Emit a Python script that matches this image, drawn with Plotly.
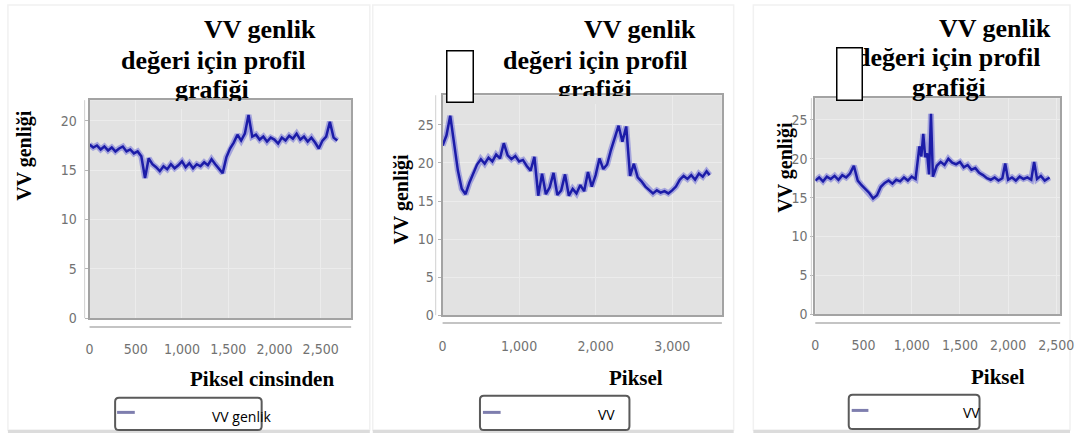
import plotly.graph_objects as go

# ---------------- data ----------------
p1_x = [0, 40, 80, 120, 160, 200, 240, 280, 320, 360, 400, 440, 480, 520, 560, 600,
        640, 680, 720, 760, 800, 840, 880, 920, 960, 1000, 1040, 1080, 1120, 1160, 1200,
        1240, 1280, 1320, 1360, 1400, 1440, 1480, 1520, 1560, 1600, 1640, 1680, 1720,
        1760, 1800, 1840, 1880, 1920, 1960, 2000, 2040, 2080, 2120, 2160, 2200, 2240,
        2280, 2320, 2360, 2400, 2440, 2480, 2520, 2560, 2600, 2640, 2680]
p1_y = [17.6, 17.3, 17.5, 17.1, 17.4, 17.0, 17.3, 16.9, 17.2, 17.4, 16.9, 17.1, 16.7, 16.9,
        16.4, 14.2, 16.2, 15.6, 15.3, 14.9, 15.4, 15.1, 15.6, 15.2, 15.5, 15.9, 15.3, 15.7,
        15.2, 15.6, 15.4, 15.8, 15.5, 16.1, 15.6, 15.2, 14.7, 16.3, 17.2, 17.8, 18.6, 18.0,
        18.7, 20.6, 18.4, 18.6, 18.1, 18.4, 17.9, 18.3, 18.1, 17.7, 18.3, 18.0, 18.5, 18.2,
        18.7, 18.1, 18.4, 17.9, 18.3, 17.8, 17.2, 18.0, 18.4, 19.9, 18.3, 18.0]

p2_x = [0, 50, 100, 150, 200, 250, 300, 350, 400, 450, 500, 550, 600, 650, 700, 750, 800,
        850, 900, 950, 1000, 1050, 1100, 1150, 1200, 1250, 1300, 1350, 1400, 1450, 1500,
        1550, 1600, 1650, 1700, 1750, 1800, 1850, 1900, 1950, 2000, 2050, 2100, 2150, 2200,
        2250, 2300, 2350, 2400, 2450, 2500, 2550, 2600, 2650, 2700, 2750, 2800, 2850, 2900,
        2950, 3000, 3050, 3100, 3150, 3200, 3250, 3300, 3350, 3400, 3450, 3490]
p2_y = [22.3, 23.6, 26.2, 22.4, 19.0, 16.6, 15.9, 17.4, 18.6, 19.8, 20.5, 19.9, 20.7, 20.2,
        21.1, 20.6, 22.6, 21.0, 20.5, 20.9, 20.2, 20.4, 19.6, 19.0, 20.8, 15.7, 18.6, 15.9,
        16.8, 18.7, 15.8, 16.4, 18.5, 15.7, 16.6, 16.0, 17.1, 16.3, 18.8, 16.9, 18.4, 20.6,
        19.2, 19.8, 21.7, 23.2, 24.9, 22.8, 24.8, 18.3, 19.9, 18.1, 17.6, 16.9, 16.5, 16.0,
        16.4, 16.1, 16.3, 16.0, 16.4, 16.9, 17.8, 18.3, 17.9, 18.4, 17.8, 18.6, 18.2, 18.9, 18.4]

p3_x = [0, 40, 80, 120, 160, 200, 240, 280, 320, 360, 400, 440, 480, 520, 560, 600, 640,
        680, 720, 760, 800, 840, 880, 920, 960, 1000, 1040, 1080, 1100, 1120, 1140, 1160,
        1180, 1200, 1220, 1260, 1300, 1340, 1380, 1420, 1460, 1500, 1540, 1580, 1620, 1660,
        1700, 1740, 1780, 1820, 1860, 1900, 1940, 1970, 2000, 2040, 2080, 2120, 2160, 2200,
        2240, 2270, 2300, 2340, 2380, 2430]
p3_y = [17.2, 17.6, 17.1, 17.7, 17.4, 17.8, 17.3, 17.9, 17.6, 18.1, 19.1, 17.2, 16.6, 16.1,
        15.6, 14.9, 15.3, 16.4, 16.9, 17.2, 16.8, 17.3, 17.1, 17.6, 17.2, 17.7, 17.4, 21.6,
        20.3, 23.2, 20.2, 20.7, 18.0, 25.8, 17.7, 19.1, 19.6, 19.2, 20.0, 19.5, 19.3, 19.6,
        18.9, 19.2, 18.6, 18.8, 18.2, 17.9, 17.5, 17.3, 17.6, 17.2, 17.5, 19.4, 17.3, 17.6,
        17.2, 17.7, 17.4, 17.6, 17.3, 19.6, 17.4, 17.8, 17.2, 17.6]

title_lines = ["VV genlik", "değeri için profil", "grafiği"]
y_title = "VV genliği"
x_titles = ["Piksel cinsinden", "Piksel", "Piksel"]
legend_names = ["VV genlik", "VV", "VV"]

# ---------------- layout helpers ----------------
W, H = 1084, 441
def PX(px):
    return px / W
def PY(py):
    return 1 - py / H

SERIF = "Liberation Serif, Times New Roman, serif"
NARROW = "Liberation Sans Narrow, DejaVu Sans Condensed, Arial Narrow, Liberation Sans, sans-serif"
SANS = "Open Sans, Liberation Sans, sans-serif"

panels = [
    dict(l=87, r=353, t=102, b=324, xr=[0, 2830], yr=[0, 22.1], dx=500, x=p1_x, y=p1_y,
         yaxl=82, xaxl=333, ylab_standoff=5),
    dict(l=446, r=730, t=97, b=321, xr=[0, 3650], yr=[0, 28.9], dx=1000, x=p2_x, y=p2_y,
         yaxl=439, xaxl=329, ylab_standoff=1),
    dict(l=825, r=1074, t=100, b=320, xr=[0, 2540], yr=[0, 27.8], dx=500, x=p3_x, y=p3_y,
         yaxl=821, xaxl=329, ylab_standoff=0),
]

fig = go.Figure()
layout = dict(
    width=W, height=H, margin=dict(l=0, r=0, t=0, b=0),
    paper_bgcolor="white", plot_bgcolor="#e2e2e2", showlegend=False,
)
shapes = []
annotations = []

for (l, r) in [(4, 372), (375, 742), (762, 1084)]:
    shapes.append(dict(type="rect", xref="paper", yref="paper", x0=PX(l), x1=PX(r),
                       y0=PY(438), y1=PY(5), line=dict(color="#f1f1f1", width=1.5),
                       fillcolor="rgba(0,0,0,0)", layer="below"))
    shapes.append(dict(type="line", xref="paper", yref="paper", x0=PX(l), x1=PX(r),
                       y0=PY(439.5), y1=PY(439.5), line=dict(color="#dcdcdc", width=3)))

for i, p in enumerate(panels):
    n = "" if i == 0 else str(i + 1)
    xa, ya = "x" + n, "y" + n
    fig.add_trace(go.Scatter(x=p["x"], y=p["y"], mode="lines", xaxis=xa, yaxis=ya,
                             line=dict(color="rgba(50,50,210,0.35)", width=6),
                             hoverinfo="skip", name=legend_names[i]))
    fig.add_trace(go.Scatter(x=p["x"], y=p["y"], mode="lines", xaxis=xa, yaxis=ya,
                             line=dict(color="#1c1ca8", width=2.5), name=legend_names[i]))
    layout["xaxis" + n] = dict(
        domain=[PX(p["l"]), PX(p["r"])], range=p["xr"], anchor=ya, dtick=p["dx"], tick0=0,
        tickformat=",d", showgrid=True, gridcolor="#ececec", gridwidth=1, zeroline=False,
        showline=True, mirror=True, linecolor="#a3a3a3", linewidth=2, ticks="",
        ticklabelstandoff=17, ticklabeloverflow="allow",
        tickfont=dict(family=NARROW, size=14, color="#727272"))
    layout["yaxis" + n] = dict(
        domain=[PY(p["b"]), PY(p["t"])], range=p["yr"], anchor=xa, dtick=5, tick0=0,
        showgrid=True, gridcolor="#ececec", gridwidth=1, zeroline=False,
        showline=True, mirror=True, linecolor="#a3a3a3", linewidth=2,
        ticks="outside", ticklen=3, tickcolor="#b5b5b5",
        ticklabelstandoff=p["ylab_standoff"], ticklabeloverflow="allow",
        tickfont=dict(family=NARROW, size=14, color="#727272"))
    shapes.append(dict(type="line", xref="paper", yref="paper", x0=PX(p["l"]), x1=PX(p["r"]),
                       y0=PY(p["xaxl"]), y1=PY(p["xaxl"]), line=dict(color="#c4c4c4", width=2)))
    shapes.append(dict(type="line", xref="paper", yref="paper", x0=PX(p["yaxl"]), x1=PX(p["yaxl"]),
                       y0=PY(p["b"]), y1=PY(p["t"]), line=dict(color="#d0d0d0", width=1)))

title_pos = [
    [(260, 30), (213, 62), (212, 91)],
    [(647, 30), (601, 62), (601, 91)],
    [(1008, 29), (960, 59), (961, 89)],
]
for i in range(3):
    for j, (cx, cy) in enumerate(title_pos[i]):
        annotations.append(dict(text="<b>%s</b>" % title_lines[j], xref="paper", yref="paper",
                                x=PX(cx), y=PY(cy), xanchor="center", yanchor="middle",
                                showarrow=False, font=dict(family=SERIF, size=26, color="black")))

for (l, r, t) in [(158, 268, 103), (548, 658, 98)]:
    annotations.append(dict(text="", xref="paper", yref="paper", x=PX(l), y=PY(t),
                            xanchor="left", yanchor="top", width=r - l, height=8,
                            bgcolor="#e2e2e2", borderpad=0, borderwidth=0, showarrow=False))

for (cx, cy) in [(20, 158), (404, 203), (795, 170)]:
    annotations.append(dict(text="<b>%s</b>" % y_title, xref="paper", yref="paper",
                            x=PX(cx), y=PY(cy), xanchor="center", yanchor="middle",
                            textangle=-90, showarrow=False,
                            font=dict(family=SERIF, size=20, color="black")))

for i, (cx, cy) in enumerate([(262, 386), (643, 385), (1011, 384)]):
    annotations.append(dict(text="<b>%s</b>" % x_titles[i], xref="paper", yref="paper",
                            x=PX(cx), y=PY(cy), xanchor="center", yanchor="middle",
                            showarrow=False, font=dict(family=SERIF, size=21, color="black")))

for (l, r, t, b) in [(449, 477, 51, 104), (846, 873, 48, 102)]:
    annotations.append(dict(text="", xref="paper", yref="paper", x=PX(l), y=PY(t),
                            xanchor="left", yanchor="top", width=r - l - 3, height=b - t - 3,
                            bgcolor="white", bordercolor="black", borderwidth=1.5, borderpad=0,
                            showarrow=False))

def rrect(l, r, t, b, rad=4):
    x0, x1 = PX(l), PX(r)
    y0, y1 = PY(b), PY(t)
    dx, dy = rad / W, rad / H
    return ("M %f,%f L %f,%f Q %f,%f %f,%f L %f,%f Q %f,%f %f,%f L %f,%f Q %f,%f %f,%f "
            "L %f,%f Q %f,%f %f,%f Z" % (
                x0 + dx, y1, x1 - dx, y1, x1, y1, x1, y1 - dy, x1, y0 + dy, x1, y0, x1 - dx, y0,
                x0 + dx, y0, x0, y0, x0, y0 + dy, x0, y1 - dy, x0, y1, x0 + dx, y1))

leg_boxes = [(113, 262, 405, 438), (484, 636, 403, 438), (859, 992, 402, 437)]
leg_lines = [(115, 133, 420), (487, 505, 420), (862, 879, 418)]
leg_text = [(242, 424), (613, 422), (984, 420)]
for i in range(3):
    l, r, t, b = leg_boxes[i]
    shapes.append(dict(type="path", xref="paper", yref="paper", path=rrect(l, r, t, b),
                       line=dict(color="#5a5a5a", width=2), fillcolor="white"))
    a, c, yy = leg_lines[i]
    shapes.append(dict(type="line", xref="paper", yref="paper", x0=PX(a), x1=PX(c),
                       y0=PY(yy), y1=PY(yy), line=dict(color="#7e7eae", width=3)))
    cx, cy = leg_text[i]
    annotations.append(dict(text=legend_names[i], xref="paper", yref="paper",
                            x=PX(cx), y=PY(cy), xanchor="center", yanchor="middle",
                            showarrow=False, font=dict(family=SANS, size=14, color="black")))

layout["shapes"] = shapes
layout["annotations"] = annotations
fig.update_layout(**layout)
fig.write_html("out.html", config={"displayModeBar": False},
               post_script="document.body.style.margin='0px';")
